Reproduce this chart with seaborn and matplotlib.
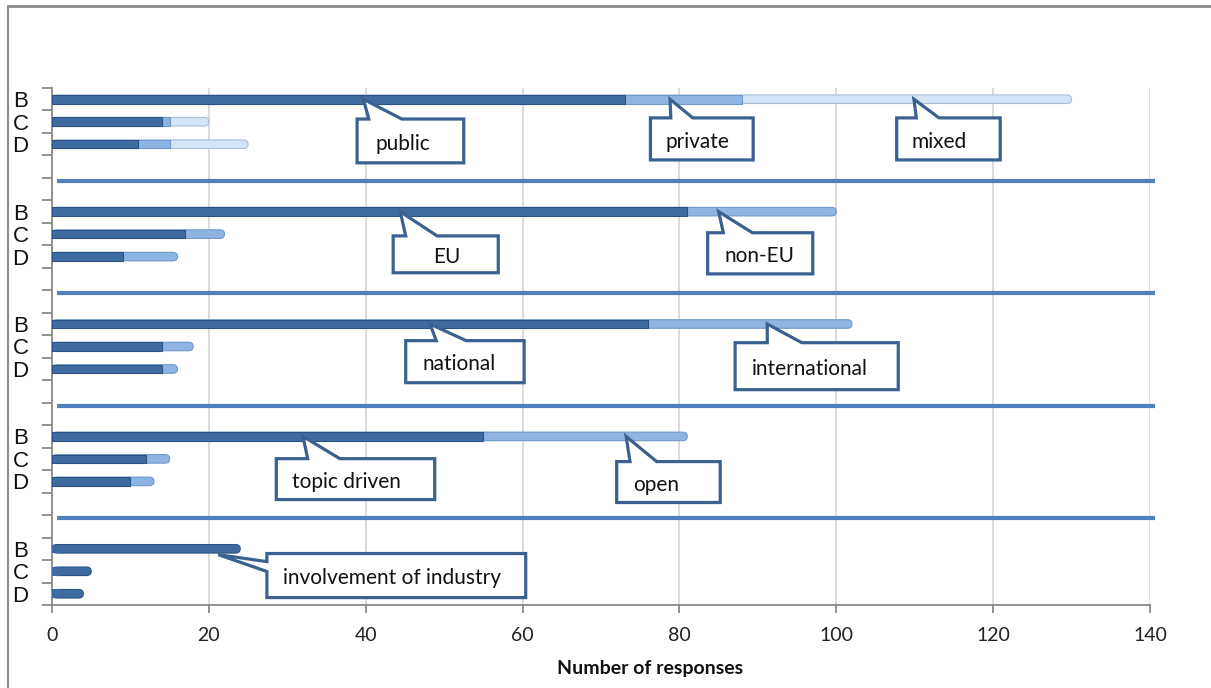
import numpy as np
import pandas as pd
import seaborn as sns
import matplotlib
matplotlib.use("Agg")
import matplotlib.pyplot as plt
from matplotlib.patches import Polygon, FancyBboxPatch, Rectangle
from matplotlib.lines import Line2D

# ---------------- data ----------------
row_labels = ["B", "C", "D"]

public_vals = [73, 14, 11]
private_vals = [15, 1, 4]
mixed_vals = [42, 5, 10]

eu_vals = [81, 17, 9]
non_eu_vals = [19, 5, 7]

national_vals = [76, 14, 14]
international_vals = [26, 4, 2]

topic_vals = [55, 12, 10]
open_vals = [26, 3, 3]

industry_vals = [24, 5, 4]

x_ticks = [0, 20, 40, 60, 80, 100, 120, 140]
x_label = "Number of responses"

# segments per group (first = dark, second = medium, third = light)
groups = [
    [public_vals, private_vals, mixed_vals],
    [eu_vals, non_eu_vals],
    [national_vals, international_vals],
    [topic_vals, open_vals],
    [industry_vals],
]

# ---------------- style ----------------
sns.set_theme(style="white")
plt.rcParams["font.family"] = ["Lato", "DejaVu Sans"]

DARK = "#3E6CA1"
DARK_EDGE = "#2C5283"
MED = "#8DB4E3"
MED_EDGE = "#6F98C8"
LIGHT = "#D5E5F7"
LIGHT_EDGE = "#A8BFDA"
SEP = "#4F81BD"
BOX_EDGE = "#3B6190"

fig = plt.figure(figsize=(12.11, 6.88), dpi=100)
ax = fig.add_axes([52 / 1211, 1 - 605 / 688, (1150 - 52) / 1211, (605 - 88) / 688])

# build long-form tables for each layer (cumulative stacking)
layer_colors = [(DARK, DARK_EDGE), (MED, MED_EDGE), (LIGHT, LIGHT_EDGE)]
layers = {0: [], 1: [], 2: []}
for g, segs in enumerate(groups):
    cum = np.cumsum(np.array(segs), axis=0)
    for k in range(len(segs)):
        for r, lab in enumerate(row_labels):
            layers[k].append({"pos": 5 * g + r, "value": cum[k][r], "row": lab})

for k in [2, 1, 0]:
    df = pd.DataFrame(layers[k])
    fc, ec = layer_colors[k]
    sns.barplot(data=df, x="value", y="pos", orient="h", native_scale=True,
                width=0.38, color=fc, edgecolor=ec, linewidth=0.8,
                saturation=1, ax=ax, zorder=3)

# give the outermost segment of every row a rounded (cylinder-like) end
outer = {}
for p in ax.patches:
    if isinstance(p, Rectangle):
        key = round(p.get_y() + p.get_height() / 2, 3)
        if key not in outer or p.get_width() > outer[key].get_width():
            outer[key] = p
for key, p in outer.items():
    x, y, w, h = p.get_x(), p.get_y(), p.get_width(), p.get_height()
    r = 0.6
    rb = FancyBboxPatch((x, y), w, h, boxstyle=f"round,pad=0,rounding_size={r}",
                        mutation_aspect=(h / 2) / r, facecolor=p.get_facecolor(),
                        edgecolor=p.get_edgecolor(), lw=0.8, zorder=2.9)
    p.remove()
    ax.add_patch(rb)
    # square off the left end (keeps only the right end rounded)
    ax.add_patch(Rectangle((x, y), min(w, 1.0), h, facecolor=rb.get_facecolor(),
                           edgecolor="none", zorder=2.95))

# separators between groups
for g in range(len(groups) - 1):
    ax.hlines(5 * g + 3.64, 0.7, 140.6, color=SEP, lw=3.0, zorder=3, clip_on=False)

# axes
ax.set_xlim(0, 140)
ax.set_ylim(22.5, -0.5)
ax.set_xticks(x_ticks)
ax.set_xticklabels([str(t) for t in x_ticks], fontsize=14, color="#222222")
ax.set_xlabel(x_label, fontsize=14, fontweight="bold", color="#111111")
ax.xaxis.set_label_coords((650 - 52) / (1150 - 52), -(660 - 605) / (605 - 88))
ax.set_ylabel("")

ytick_pos = [5 * g + r for g in range(len(groups)) for r in range(3)]
ax.set_yticks(ytick_pos)
ax.set_yticklabels(row_labels * len(groups), fontsize=16, family="Liberation Sans",
                   color="#111111")
ax.set_yticks(np.arange(-0.5, 23.0, 1.0), minor=True)
ax.tick_params(axis="y", which="major", length=0, pad=17)
ax.tick_params(axis="y", which="minor", length=7, width=1.2, color="#7f7f7f",
               direction="out", left=True)
ax.tick_params(axis="x", which="major", length=6, width=1.2, color="#7f7f7f",
               direction="out", bottom=True, pad=10)

ax.grid(axis="x", color="#D9D9D9", lw=1.3, zorder=0)
ax.grid(axis="y", visible=False)
ax.set_axisbelow(True)
for s in ["top", "right"]:
    ax.spines[s].set_visible(False)
for s in ["left", "bottom"]:
    ax.spines[s].set_color("#8a8a8a")
    ax.spines[s].set_linewidth(1.3)

# ---------------- callouts (annotation layout, data units) ----------------
callouts = [
    # text, tip(x, y), box (x0, x1, y0, y1), wedge base (a, b) on top edge, text x
    ("public", (39.7, 0.0), (38.9, 52.5, 0.88, 2.83), (40.4, 44.6), 41.3),
    ("private", (78.8, 0.0), (76.3, 89.4, 0.83, 2.70), (78.9, 81.7), 78.2),
    ("mixed", (109.9, 0.0), (107.7, 120.9, 0.83, 2.70), (110.2, 113.1), 109.6),
    ("EU", (44.4, 5.0), (43.5, 56.9, 6.08, 7.72), (45.1, 49.1), 48.6),
    ("non-EU", (85.0, 5.0), (83.6, 97.0, 5.94, 7.77), (85.6, 89.3), 85.8),
    ("national", (48.2, 10.0), (45.1, 60.2, 10.74, 12.61), (49.0, 52.8), 47.3),
    ("international", (91.2, 10.0), (87.1, 107.9, 10.83, 12.92), (91.2, 95.6), 89.3),
    ("topic driven", (32.0, 15.0), (28.6, 48.8, 15.99, 17.81), (32.6, 36.7), 30.6),
    ("open", (73.2, 15.0), (72.0, 85.2, 16.12, 17.94), (73.7, 77.1), 74.1),
]
TXT = 15
for text, (tx, ty), (x0, x1, y0, y1), (a, b), txt_x in callouts:
    pts = [(x0, y0), (a, y0), (tx, ty), (b, y0), (x1, y0), (x1, y1), (x0, y1)]
    ax.add_patch(Polygon(pts, closed=True, facecolor="white", edgecolor=BOX_EDGE,
                         lw=2.3, joinstyle="miter", zorder=5, clip_on=False))
    ax.text(txt_x, (y0 + y1) / 2 + 0.12, text, fontsize=TXT, ha="left", va="center",
            color="#111111", zorder=6)

# side-pointing callout for industry
x0, x1, y0, y1 = 27.4, 60.4, 20.21, 22.17
tip = (21.2, 20.26)
pts = [(x0, y0), (x1, y0), (x1, y1), (x0, y1), (x0, 21.01), tip, (x0, 20.57)]
ax.add_patch(Polygon(pts, closed=True, facecolor="white", edgecolor=BOX_EDGE,
                     lw=2.3, joinstyle="miter", zorder=5, clip_on=False))
ax.text(29.45, (y0 + y1) / 2 + 0.12, "involvement of industry", fontsize=TXT,
        ha="left", va="center", color="#111111", zorder=6)

# chart frame (top and left edges)
fig.add_artist(Line2D([8 / 1211, 1], [1 - 6 / 688, 1 - 6 / 688], color="#8c8c8c",
                      lw=2, transform=fig.transFigure))
fig.add_artist(Line2D([8 / 1211, 8 / 1211], [0, 1 - 6 / 688], color="#8c8c8c",
                      lw=1.5, transform=fig.transFigure))

fig.savefig("out.png", dpi=100)
